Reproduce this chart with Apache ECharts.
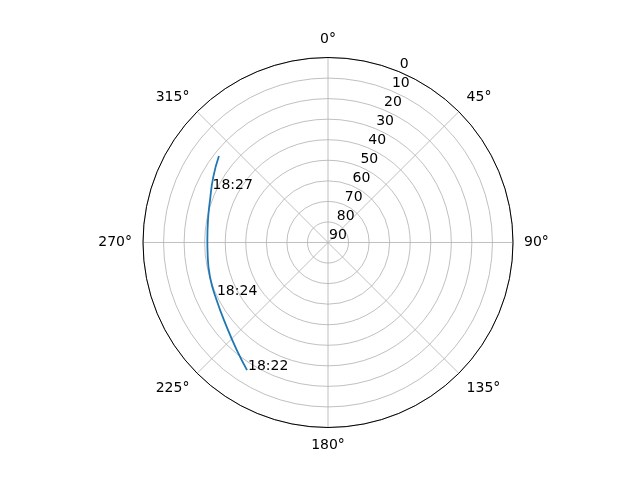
<!DOCTYPE html>
<html>
<head>
<meta charset="utf-8">
<script src="https://cdn.jsdelivr.net/npm/echarts@6/dist/echarts.min.js"></script>
<style>
  html, body { margin: 0; padding: 0; background: #fff; }
  #main { width: 640px; height: 480px; }
</style>
</head>
<body>
<div id="main"></div>
<script>
// satellite track: azimuth (deg, clockwise from north) and elevation (deg)
var trackAzimuth = [212.4, 220.3, 230.3, 242.7, 253.8, 264.9, 271.2, 280.6, 289.8, 299.8, 308.4];
var trackElevation = [16.5, 21.4, 25.9, 29.0, 30.2, 31.2, 31.3, 30.6, 29.0, 25.7, 22.3];

// time stamps along the track
var timeLabels = ["18:22", "18:24", "18:27"];
var timeAzimuth = [212.4, 244.9, 294.5];
var timeElevation = [16.5, 29.8, 27.7];

// elevation tick labels, drawn along the 22.5 deg spoke
var elevationTicks = [0, 10, 20, 30, 40, 50, 60, 70, 80, 90];

var FONT = "DejaVu Sans";
var chart = echarts.init(document.getElementById("main"));

var option = {
  animation: false,
  backgroundColor: "#fff",
  polar: {
    center: [328, 242.5],
    radius: 185,
  },
  angleAxis: {
    type: "value",
    min: 0,
    max: 360,
    interval: 45,
    startAngle: 90,
    clockwise: true,
    axisLine: { lineStyle: { color: "#000", width: 1 } },
    axisTick: { show: false },
    axisLabel: {
      margin: 11,
      color: "#000",
      fontFamily: FONT,
      fontSize: 14,
      formatter: function (v) {
        return v === 360 ? "" : v + "°";
      },
    },
    splitLine: { lineStyle: { color: "#b0b0b0", width: 0.8 } },
  },
  radiusAxis: {
    type: "value",
    min: 0,
    max: 90,
    interval: 10,
    inverse: true,
    axisLine: { show: false },
    axisTick: { show: false },
    axisLabel: { show: false },
    splitLine: { lineStyle: { color: "#b0b0b0", width: 0.8 } },
  },
  series: [
    {
      name: "track",
      type: "line",
      coordinateSystem: "polar",
      smooth: 0.5,
      showSymbol: false,
      lineStyle: { color: "#1f77b4", width: 1.8 },
      data: trackElevation.map(function (el, i) {
        return [el, trackAzimuth[i]];
      }),
      z: 5,
    },
    {
      name: "times",
      type: "scatter",
      coordinateSystem: "polar",
      symbolSize: 0,
      itemStyle: { opacity: 1 },
      label: {
        show: true,
        position: [1, 3],
        align: "left",
        verticalAlign: "bottom",
        color: "#000",
        fontFamily: FONT,
        fontSize: 14,
        formatter: "{b}",
      },
      data: timeLabels.map(function (t, i) {
        return { name: t, value: [timeElevation[i], timeAzimuth[i]] };
      }),
      z: 6,
    },
    {
      name: "elevation labels",
      type: "scatter",
      coordinateSystem: "polar",
      symbolSize: 0,
      itemStyle: { opacity: 1 },
      label: {
        show: true,
        position: [1, 0],
        align: "left",
        verticalAlign: "bottom",
        color: "#000",
        fontFamily: FONT,
        fontSize: 14,
        formatter: function (p) {
          return String(p.value[0]);
        },
      },
      data: elevationTicks.map(function (v) {
        return [v, 22.5];
      }),
      z: 6,
    },
  ],
};

chart.setOption(option);
</script>
</body>
</html>
